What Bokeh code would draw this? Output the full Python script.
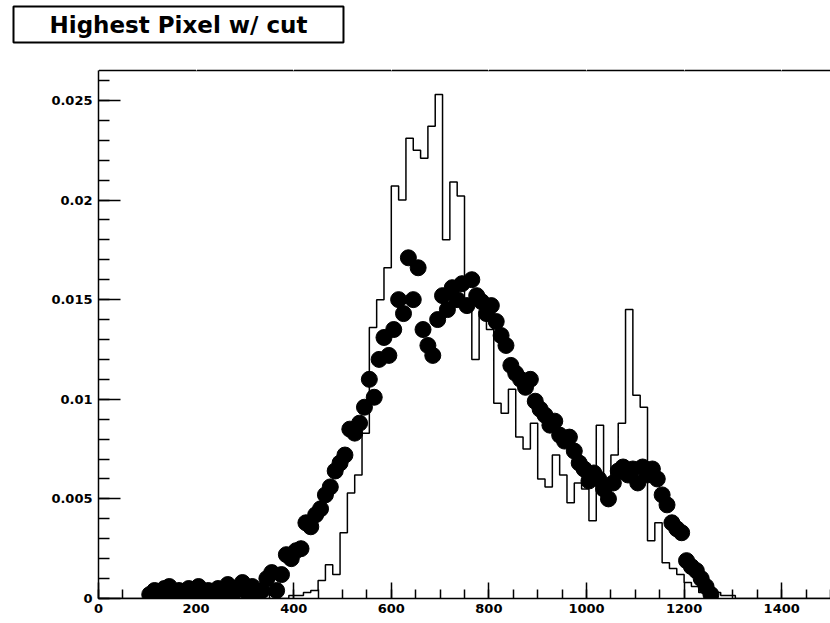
import numpy as np
from bokeh.plotting import figure
from bokeh.models import (LinearAxis, SingleIntervalTicker, Title,
                          CustomJSTickFormatter, Range1d, ColumnDataSource)
from bokeh.embed import file_html
from bokeh.resources import INLINE

# ---------------- data ----------------
title_text = "Highest Pixel w/ cut"

x_max = 1500
y_max = 0.0265

# thin-line histogram: bin width, lower edge of first non-empty bin, bin contents
hist_bin_width = 15
hist_first_edge = 375
hist_values = [
    0.0, 0.00015, 0.00015, 0.0003, 0.0004, 0.0009, 0.0017, 0.0012, 0.0033, 0.0053,
    0.0062, 0.0083, 0.0136, 0.0150, 0.0166, 0.0207, 0.0200, 0.0231, 0.0225, 0.0221,
    0.0237, 0.0253, 0.0180, 0.0209, 0.0202, 0.0145, 0.0120, 0.0142, 0.0135, 0.0098,
    0.0093, 0.0105, 0.0081, 0.0075, 0.0088, 0.0060, 0.0056, 0.0072, 0.0062, 0.0048,
    0.0058, 0.0055, 0.0039, 0.0087, 0.0052, 0.0072, 0.0088, 0.0145, 0.0102, 0.0096,
    0.0029, 0.0038, 0.0018, 0.0015, 0.0012, 0.0008, 0.0006, 0.0003, 0.0003, 0.0003,
    0.00015, 0.00015,
]

# big-dot series: bin width, centre of first bin, bin contents
marker_bin_width = 10
marker_first_center = 105
marker_values = [
    0.0002, 0.0004, 0.0001, 0.0005, 0.0006, 0.0002, 0.0004, 0.0001, 0.0005, 0.0003,
    0.0006, 0.0002, 0.0004, 0.0001, 0.0005, 0.0003, 0.0007, 0.0002, 0.0005, 0.0008,
    0.0003, 0.0006, 0.0002, 0.0004, 0.0010, 0.0013, 0.0004, 0.0012, 0.0022, 0.0020,
    0.0024, 0.0025, 0.0038, 0.0036, 0.0042, 0.0045, 0.0052, 0.0056, 0.0064, 0.0068,
    0.0072, 0.0085, 0.0083, 0.0088, 0.0096, 0.0110, 0.0101, 0.0120, 0.0131, 0.0122,
    0.0135, 0.0150, 0.0143, 0.0171, 0.0150, 0.0166, 0.0135, 0.0127, 0.0122, 0.0140,
    0.0152, 0.0145, 0.0156, 0.0150, 0.0158, 0.0147, 0.0160, 0.0152, 0.0149, 0.0143,
    0.0147, 0.0139, 0.0132, 0.0127, 0.0117, 0.0113, 0.0110, 0.0106, 0.0110, 0.0099,
    0.0095, 0.0092, 0.0087, 0.0089, 0.0082, 0.0079, 0.0081, 0.0074, 0.0068, 0.0065,
    0.0059, 0.0063, 0.0060, 0.0055, 0.0050, 0.0058, 0.0064, 0.0066, 0.0062, 0.0065,
    0.0058, 0.0066, 0.0062, 0.0065, 0.0060, 0.0052, 0.0047, 0.0038, 0.0035, 0.0033,
    0.0019, 0.0016, 0.0014, 0.0010, 0.0006, 0.0002,
]

# ---------------- derived arrays ----------------
edges = hist_first_edge + hist_bin_width * np.arange(len(hist_values) + 1)
step_x = np.concatenate([[0], edges, [x_max]])
step_y = np.concatenate([[0], hist_values, [0, 0]])
hist_src = ColumnDataSource(dict(x=step_x, y=step_y))

mk_x = marker_first_center + marker_bin_width * np.arange(len(marker_values))
mk_src = ColumnDataSource(dict(x=mk_x, y=marker_values))

# ---------------- figure ----------------
title = Title(text=title_text, align="left", offset=-85, standoff=8,
              text_font="DejaVu Sans", text_font_style="bold",
              text_font_size="23px", text_color="black",
              border_line_color="black", border_line_width=2,
              background_fill_color="white", padding=(36, 36, 5, 5))

p = figure(width=830, height=623, title=title,
           x_range=Range1d(0, x_max), y_range=Range1d(0, y_max),
           output_backend="svg", toolbar_location=None,
           min_border_left=98, min_border_right=0,
           min_border_top=70, min_border_bottom=25)
p.xgrid.visible = False
p.ygrid.visible = False
p.outline_line_color = None
p.background_fill_color = "white"
p.border_fill_color = "white"

p.step("x", "y", source=hist_src, mode="after", line_color="black", line_width=1.5)
p.scatter("x", "y", source=mk_src, marker="circle", size=16,
          fill_color="black", line_color="black")

fmt = CustomJSTickFormatter(code="return Number(tick.toFixed(5)).toString();")

xa = p.xaxis[0]
xa.ticker = SingleIntervalTicker(interval=200, num_minor_ticks=4)
xa.formatter = fmt
xa.major_tick_in = 16
xa.major_tick_out = 0
xa.minor_tick_in = 9
xa.minor_tick_out = 0
xa.major_label_standoff = 5

ya = p.yaxis[0]
ya.ticker = SingleIntervalTicker(interval=0.005, num_minor_ticks=5)
ya.formatter = fmt
ya.major_tick_in = 22
ya.major_tick_out = 0
ya.minor_tick_in = 11
ya.minor_tick_out = 0
ya.major_label_standoff = 6

for ax in (xa, ya):
    ax.axis_line_color = "black"
    ax.axis_line_width = 1.5
    ax.major_tick_line_color = "black"
    ax.minor_tick_line_color = "black"
    ax.major_tick_line_width = 1.5
    ax.minor_tick_line_width = 1.5
    ax.major_label_text_font = "DejaVu Sans"
    ax.major_label_text_font_style = "bold"
    ax.major_label_text_font_size = "13px"
    ax.major_label_text_color = "black"

# top edge of the frame; its (white, invisible) outer ticks reserve the gap
# between the frame and the title box
top = LinearAxis(ticker=SingleIntervalTicker(interval=200), major_tick_in=0,
                 major_tick_out=24, minor_tick_in=0, minor_tick_out=0,
                 major_tick_line_color="white",
                 major_label_standoff=0, major_label_text_font_size="0px",
                 axis_line_width=1.5, axis_line_color="black")
top.major_label_text_alpha = 0
p.add_layout(top, "above")

open("out.html", "w").write(file_html(p, INLINE))
